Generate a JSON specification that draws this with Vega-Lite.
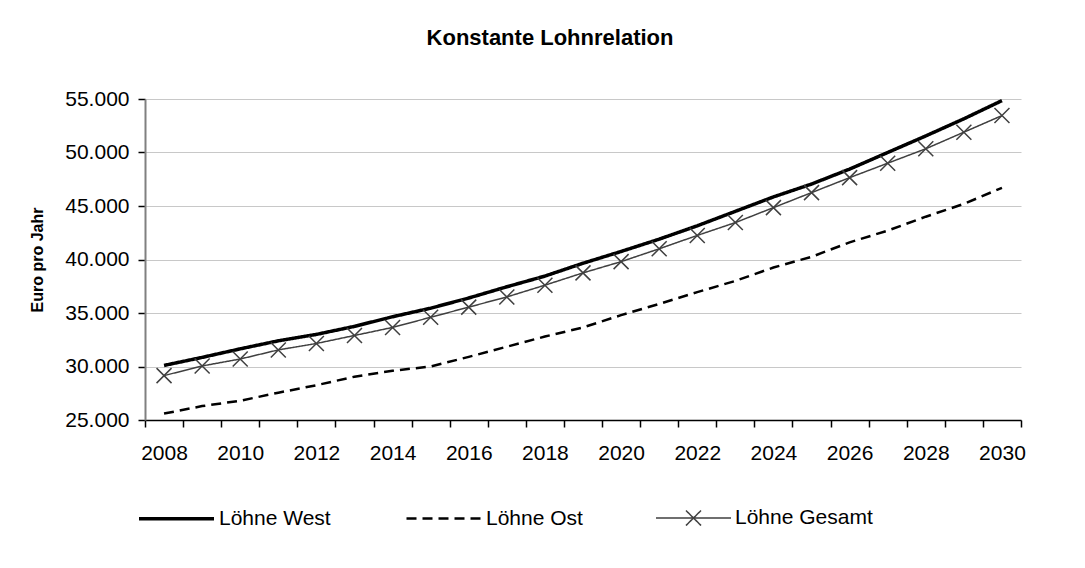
{
  "$schema": "https://vega.github.io/schema/vega-lite/v6.json",
  "width": 876,
  "height": 321,
  "autosize": "none",
  "padding": {"left": 145, "top": 99, "right": 64, "bottom": 148},
  "background": "white",
  "title": {"text": "Konstante Lohnrelation", "font": "Liberation Sans", "fontSize": 22, "fontWeight": "bold", "color": "black", "anchor": "middle", "dx": -33, "offset": 38},
  "data": {"values": [
    {"year": 2008, "series": "Löhne West", "value": 30100}, {"year": 2008, "series": "Löhne Ost", "value": 25600}, {"year": 2008, "series": "Löhne Gesamt", "value": 29150},
    {"year": 2009, "series": "Löhne West", "value": 30850}, {"year": 2009, "series": "Löhne Ost", "value": 26300}, {"year": 2009, "series": "Löhne Gesamt", "value": 30050},
    {"year": 2010, "series": "Löhne West", "value": 31650}, {"year": 2010, "series": "Löhne Ost", "value": 26800}, {"year": 2010, "series": "Löhne Gesamt", "value": 30700},
    {"year": 2011, "series": "Löhne West", "value": 32400}, {"year": 2011, "series": "Löhne Ost", "value": 27550}, {"year": 2011, "series": "Löhne Gesamt", "value": 31550},
    {"year": 2012, "series": "Löhne West", "value": 33000}, {"year": 2012, "series": "Löhne Ost", "value": 28250}, {"year": 2012, "series": "Löhne Gesamt", "value": 32150},
    {"year": 2013, "series": "Löhne West", "value": 33750}, {"year": 2013, "series": "Löhne Ost", "value": 29050}, {"year": 2013, "series": "Löhne Gesamt", "value": 32900},
    {"year": 2014, "series": "Löhne West", "value": 34650}, {"year": 2014, "series": "Löhne Ost", "value": 29600}, {"year": 2014, "series": "Löhne Gesamt", "value": 33650},
    {"year": 2015, "series": "Löhne West", "value": 35450}, {"year": 2015, "series": "Löhne Ost", "value": 30000}, {"year": 2015, "series": "Löhne Gesamt", "value": 34600},
    {"year": 2016, "series": "Löhne West", "value": 36400}, {"year": 2016, "series": "Löhne Ost", "value": 30900}, {"year": 2016, "series": "Löhne Gesamt", "value": 35550},
    {"year": 2017, "series": "Löhne West", "value": 37450}, {"year": 2017, "series": "Löhne Ost", "value": 31850}, {"year": 2017, "series": "Löhne Gesamt", "value": 36500},
    {"year": 2018, "series": "Löhne West", "value": 38450}, {"year": 2018, "series": "Löhne Ost", "value": 32800}, {"year": 2018, "series": "Löhne Gesamt", "value": 37600},
    {"year": 2019, "series": "Löhne West", "value": 39650}, {"year": 2019, "series": "Löhne Ost", "value": 33650}, {"year": 2019, "series": "Löhne Gesamt", "value": 38750},
    {"year": 2020, "series": "Löhne West", "value": 40750}, {"year": 2020, "series": "Löhne Ost", "value": 34800}, {"year": 2020, "series": "Löhne Gesamt", "value": 39800},
    {"year": 2021, "series": "Löhne West", "value": 41900}, {"year": 2021, "series": "Löhne Ost", "value": 35850}, {"year": 2021, "series": "Löhne Gesamt", "value": 41000},
    {"year": 2022, "series": "Löhne West", "value": 43150}, {"year": 2022, "series": "Löhne Ost", "value": 36950}, {"year": 2022, "series": "Löhne Gesamt", "value": 42250},
    {"year": 2023, "series": "Löhne West", "value": 44500}, {"year": 2023, "series": "Löhne Ost", "value": 38000}, {"year": 2023, "series": "Löhne Gesamt", "value": 43450},
    {"year": 2024, "series": "Löhne West", "value": 45850}, {"year": 2024, "series": "Löhne Ost", "value": 39250}, {"year": 2024, "series": "Löhne Gesamt", "value": 44850},
    {"year": 2025, "series": "Löhne West", "value": 47050}, {"year": 2025, "series": "Löhne Ost", "value": 40250}, {"year": 2025, "series": "Löhne Gesamt", "value": 46250},
    {"year": 2026, "series": "Löhne West", "value": 48450}, {"year": 2026, "series": "Löhne Ost", "value": 41600}, {"year": 2026, "series": "Löhne Gesamt", "value": 47650},
    {"year": 2027, "series": "Löhne West", "value": 50000}, {"year": 2027, "series": "Löhne Ost", "value": 42700}, {"year": 2027, "series": "Löhne Gesamt", "value": 49000},
    {"year": 2028, "series": "Löhne West", "value": 51550}, {"year": 2028, "series": "Löhne Ost", "value": 44000}, {"year": 2028, "series": "Löhne Gesamt", "value": 50350},
    {"year": 2029, "series": "Löhne West", "value": 53150}, {"year": 2029, "series": "Löhne Ost", "value": 45200}, {"year": 2029, "series": "Löhne Gesamt", "value": 51900},
    {"year": 2030, "series": "Löhne West", "value": 54850}, {"year": 2030, "series": "Löhne Ost", "value": 46700}, {"year": 2030, "series": "Löhne Gesamt", "value": 53450}
  ]},
  "encoding": {
    "x": {
      "field": "year", "type": "ordinal",
      "scale": {"paddingInner": 0, "paddingOuter": 0},
      "axis": {
        "title": null, "tickBand": "extent", "labelAngle": 0, "labelOverlap": false,
        "labelExpr": "datum.value % 2 == 0 ? datum.label : ''",
        "labelFont": "Liberation Sans", "labelFontSize": 21, "labelColor": "black", "labelPadding": 15,
        "tickSize": 7, "tickColor": "black", "tickWidth": 1.5,
        "domainColor": "black", "domainWidth": 1.5, "grid": false
      }
    },
    "y": {
      "field": "value", "type": "quantitative",
      "scale": {"domain": [25000, 55000], "nice": false, "zero": false},
      "axis": {
        "title": "Euro pro Jahr", "titleFont": "Liberation Sans", "titleFontSize": 16, "titleFontWeight": "bold", "titleColor": "black", "titlePadding": 19,
        "values": [25000, 30000, 35000, 40000, 45000, 50000, 55000],
        "labelExpr": "replace(format(datum.value, ',d'), ',', '.')",
        "labelFont": "Liberation Sans", "labelFontSize": 21, "labelColor": "black", "labelPadding": 9,
        "tickSize": 7, "tickColor": "black", "tickWidth": 1.5,
        "domainColor": "#808080", "domainWidth": 2,
        "grid": true, "gridColor": "#c8c8c8", "gridWidth": 1
      }
    }
  },
  "layer": [
    {
      "mark": {"type": "line", "strokeCap": "butt"},
      "encoding": {
        "color": {
          "field": "series", "type": "ordinal",
          "scale": {"domain": ["Löhne West", "Löhne Ost", "Löhne Gesamt"], "range": ["#000000", "#000000", "#404040"]},
          "legend": {"title": null, "orient": "none", "legendX": -8, "legendY": 380, "direction": "horizontal",
            "encode": {"symbols": {"update": {"shape": {"signal": "datum.value === 'Löhne Gesamt' ? 'M-1,0L1,0M-0.2,-0.2L0.2,0.2M0.2,-0.2L-0.2,0.2' : 'stroke'"}}}}}
        },
        "strokeDash": {
          "field": "series", "type": "ordinal",
          "scale": {"domain": ["Löhne West", "Löhne Ost", "Löhne Gesamt"], "range": [[1, 0], [10, 6], [1, 0]]},
          "legend": {"title": null, "orient": "none", "legendX": -8, "legendY": 380, "direction": "horizontal"}
        },
        "strokeWidth": {
          "field": "series", "type": "ordinal",
          "scale": {"domain": ["Löhne West", "Löhne Ost", "Löhne Gesamt"], "range": [3.5, 1.5, 1.5]},
          "legend": {"title": null, "orient": "none", "legendX": -8, "legendY": 380, "direction": "horizontal"}
        }
      }
    },
    {
      "transform": [{"filter": "datum.series === 'Löhne Gesamt'"}],
      "mark": {"type": "point", "shape": "M-1,-1L1,1M1,-1L-1,1", "filled": false, "size": 225, "stroke": "#404040", "strokeWidth": 1.5, "opacity": 1}
    }
  ],
  "config": {
    "view": {"stroke": null},
    "font": "Liberation Sans",
    "legend": {"symbolType": "stroke", "symbolSize": 5625, "labelFont": "Liberation Sans", "labelFontSize": 21, "labelColor": "black", "labelOffset": 3, "columnPadding": 70, "symbolStrokeColor": "black", "labelLimit": 300}
  }
}
